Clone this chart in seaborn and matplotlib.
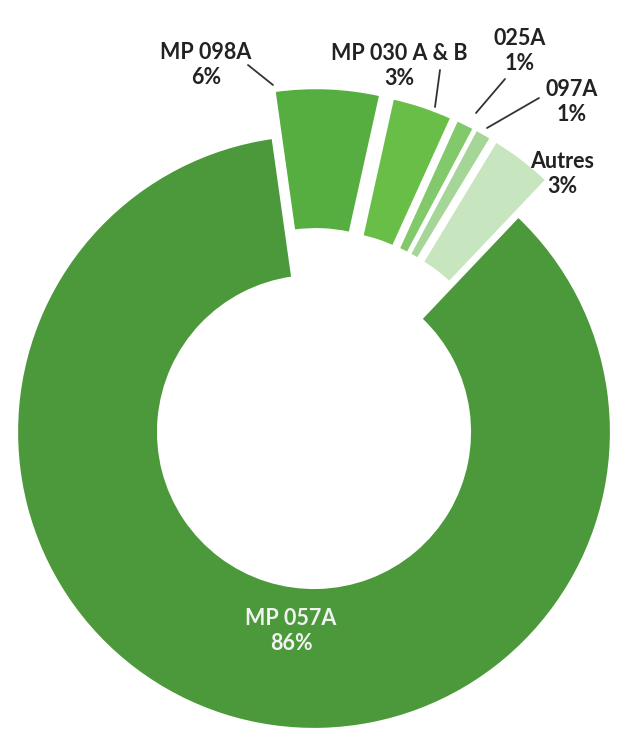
import matplotlib
matplotlib.use("Agg")
import matplotlib.pyplot as plt
import seaborn as sns

# ====================== DATA ======================
labels = ["MP 098A", "MP 030 A & B", "025A", "097A", "Autres", "MP 057A"]
shares = [5.7, 3.3, 1.0, 0.9, 3.4, 85.7]
shown_pct = [6, 3, 1, 1, 3, 86]

# ====================== STYLE ======================
colors = ["#56ad40", "#69be48", "#82c96c", "#a6d697", "#c7e5bf", "#4c993b"]
explode = [0.158, 0.155, 0.155, 0.155, 0.155, 0.0]

W, H = 640, 740
CX, CY, R = 314, 432, 297  # donut centre / outer radius in pixels


def px(x, y):
    # pixel position (from top-left) -> data units of the pie
    return (x - CX) / R, (CY - y) / R


# label block centres and leader line (start, end), in pixels
label_pos = [(206, 65), (399, 66), (520, 51), (572, 102), (562, 174)]
leaders = [((248, 65), (273, 85)),
           ((440, 70), (435, 107)),
           ((505, 79), (476, 113)),
           ((539, 98), (487, 128)),
           None]

sns.set_theme(style="white")
plt.rcParams["font.family"] = ["Lato", "DejaVu Sans"]

fig = plt.figure(figsize=(W / 100, H / 100), dpi=100)
ax = fig.add_axes([0, 0, 1, 1])

wedges, _ = ax.pie(shares, colors=colors, explode=explode, startangle=98,
                   counterclock=False, radius=1,
                   wedgeprops=dict(width=0.475, edgecolor="white", linewidth=1.6))

ax.set_xlim(px(0, 0)[0], px(W, 0)[0])
ax.set_ylim(px(0, H)[1], px(0, 0)[1])
ax.set_aspect("equal")
ax.axis("off")

for i, (name, pct) in enumerate(zip(labels, shown_pct)):
    text = f"{name}\n{pct}%"
    if i < len(label_pos):
        ax.text(*px(*label_pos[i]), text, ha="center", va="center",
                fontsize=15.5, fontweight="bold", color="#222222", linespacing=1.25)
        if leaders[i] is not None:
            (x0, y0), (x1, y1) = leaders[i]
            ax.annotate("", xy=px(x1, y1), xytext=px(x0, y0),
                        arrowprops=dict(arrowstyle="-", color="#333333", lw=1.3,
                                        shrinkA=0, shrinkB=0))
    else:
        ax.text(*px(291, 631), text, ha="center", va="center",
                fontsize=15.5, fontweight="bold", color="#f2f2f2", linespacing=1.25)

fig.savefig("out.png", dpi=100, facecolor="white")
